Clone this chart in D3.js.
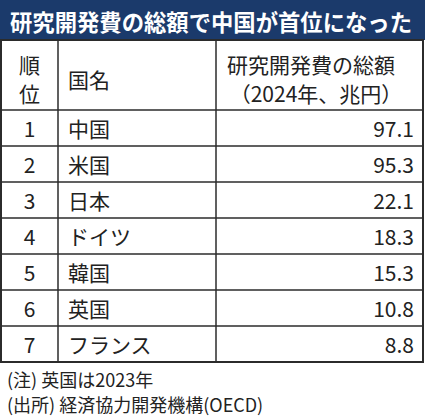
<!DOCTYPE html>
<html>
<head>
<meta charset="utf-8">
<title>研究開発費の総額</title>
<style>
    body { margin: 0; background: #fff; }
    text { font-family: "Noto Sans CJK JP", "Noto Sans", sans-serif; }
</style>
<script src="https://d3js.org/d3.v7.min.js"></script>
</head>
<body>
<svg width="425" height="420"></svg>
<script>
    var title = "研究開発費の総額で中国が首位になった";
    var headRank = ["順", "位"];
    var headName = "国名";
    var headValue = ["研究開発費の総額", "（2024年、兆円）"];
    var ranks = [1, 2, 3, 4, 5, 6, 7];
    var countries = ["中国", "米国", "日本", "ドイツ", "韓国", "英国", "フランス"];
    var values = [97.1, 95.3, 22.1, 18.3, 15.3, 10.8, 8.8];
    var notes = ["(注) 英国は2023年", "(出所) 経済協力開発機構(OECD)"];

    var svg = d3.select("svg"),
        width = +svg.attr("width");

    var left = 1, right = 423,
        titleH = 40, headTop = 40, headBottom = 110, tableBottom = 362;

    var col1 = 58, col2 = 216;

    var y = d3.scaleBand()
        .domain(ranks)
        .range([headBottom, tableBottom]);

    var fmt = d3.format(".1f");
    var lineColor = "#2b2b2b";

    // title bar
    svg.append("rect")
        .attr("x", 0).attr("y", 0)
        .attr("width", width).attr("height", titleH)
        .attr("fill", "#1b3a6b");

    svg.append("text")
        .attr("x", 10)
        .attr("y", titleH / 2 + 1)
        .attr("dominant-baseline", "central")
        .attr("fill", "#fff")
        .attr("font-weight", "bold")
        .attr("font-size", 22.5)
        .attr("textLength", 402)
        .attr("lengthAdjust", "spacingAndGlyphs")
        .text(title);

    // header
    headRank.forEach(function(t, i) {
        svg.append("text")
            .attr("x", (left + col1) / 2)
            .attr("y", 64 + i * 29)
            .attr("text-anchor", "middle")
            .attr("dominant-baseline", "central")
            .attr("font-size", 21)
            .attr("fill", "#222")
            .text(t);
    });

    svg.append("text")
        .attr("x", 68)
        .attr("y", 79)
        .attr("dominant-baseline", "central")
        .attr("font-size", 21)
        .attr("fill", "#222")
        .text(headName);

    headValue.forEach(function(t, i) {
        svg.append("text")
            .attr("x", i == 0 ? 311 : 316)
            .attr("y", 64 + i * 29)
            .attr("text-anchor", "middle")
            .attr("dominant-baseline", "central")
            .attr("font-size", 21)
            .attr("fill", "#222")
            .text(t);
    });

    // rows
    var rows = svg.selectAll("g.row")
        .data(ranks)
        .enter().append("g")
        .attr("class", "row")
        .attr("transform", function(d) { return "translate(0," + (y(d) + y.bandwidth() / 2) + ")"; });

    rows.append("text")
        .attr("x", (left + col1) / 2)
        .attr("text-anchor", "middle")
        .attr("dominant-baseline", "central")
        .attr("font-size", 21)
        .attr("fill", "#222")
        .text(function(d) { return d; });

    rows.append("text")
        .attr("x", 68)
        .attr("dominant-baseline", "central")
        .attr("font-size", 21)
        .attr("fill", "#222")
        .text(function(d, i) { return countries[i]; });

    rows.append("text")
        .attr("x", 414)
        .attr("text-anchor", "end")
        .attr("dominant-baseline", "central")
        .attr("font-size", 21)
        .attr("fill", "#222")
        .text(function(d, i) { return fmt(values[i]); });

    // grid lines
    svg.selectAll("line.h")
        .data(ranks)
        .enter().append("line")
        .attr("class", "h")
        .attr("x1", left).attr("x2", right)
        .attr("y1", function(d) { return y(d); })
        .attr("y2", function(d) { return y(d); })
        .attr("stroke", lineColor)
        .attr("stroke-width", 1.5);

    [col1, col2].forEach(function(x) {
        svg.append("line")
            .attr("x1", x).attr("x2", x)
            .attr("y1", headTop).attr("y2", tableBottom)
            .attr("stroke", lineColor)
            .attr("stroke-width", 1.5);
    });

    svg.append("rect")
        .attr("x", left).attr("y", headTop)
        .attr("width", right - left)
        .attr("height", tableBottom - headTop)
        .attr("fill", "none")
        .attr("stroke", lineColor)
        .attr("stroke-width", 2);

    // notes
    notes.forEach(function(t, i) {
        svg.append("text")
            .attr("x", 7)
            .attr("y", 379 + i * 25)
            .attr("dominant-baseline", "central")
            .attr("font-size", 18)
            .attr("fill", "#222")
            .text(t);
    });
</script>
</body>
</html>
